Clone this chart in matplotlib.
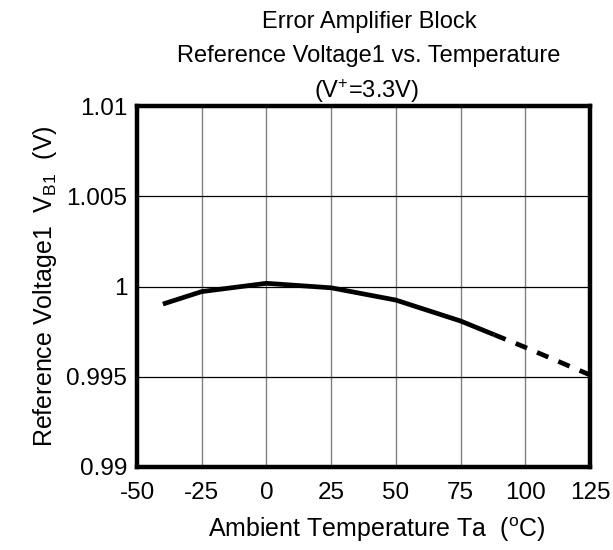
import matplotlib.pyplot as plt
import numpy as np

plt.rcParams['font.family'] = ['Liberation Sans', 'DejaVu Sans']
plt.rcParams['mathtext.default'] = 'regular'

# measured curve
temp_solid = [-40, -25, 0, 25, 50, 75, 88]
vb1_solid = [0.99903, 0.99972, 1.00018, 0.99993, 0.99925, 0.99809, 0.99733]
temp_dash = [88, 100, 125]
vb1_dash = [0.99733, 0.99663, 0.99510]

xticks = [-50, -25, 0, 25, 50, 75, 100, 125]
xlabels = ["-50", "-25", "0", "25", "50", "75", "100", "125"]
yticks = [0.99, 0.995, 1.0, 1.005, 1.01]
ylabels = ["0.99", "0.995", "1", "1.005", "1.01"]

fig = plt.figure(figsize=(6.13, 5.5), dpi=100)
ax = fig.add_axes([0.2235, 0.151, 0.739, 0.656])

for x in xticks[1:-1]:
    ax.axvline(x, color="#808080", lw=1.0, zorder=1)
for y in yticks[1:-1]:
    ax.axhline(y, color="black", lw=0.9, zorder=1)

ax.plot(temp_solid, vb1_solid, color="black", lw=3.4, solid_capstyle="butt", zorder=3)
ax.plot(temp_dash, vb1_dash, color="black", lw=3.4, dashes=(2.6, 2.3),
        dash_capstyle="butt", zorder=3)

ax.set_xlim(-50, 125)
ax.set_ylim(0.99, 1.01)
ax.set_xticks(xticks)
ax.set_xticklabels(xlabels)
ax.set_yticks(yticks)
ax.set_yticklabels(ylabels)
ax.tick_params(length=0, labelsize=17.5)
ax.tick_params(axis="x", pad=11)
ax.tick_params(axis="y", pad=7)
for s in ax.spines.values():
    s.set_linewidth(3.2)

ax.set_xlabel("Ambient Temperature Ta  ($^{o}$C)", fontsize=18)
ax.xaxis.set_label_coords(0.53, -0.194, transform=ax.transAxes)
ax.xaxis.label.set_va("baseline")
ax.set_ylabel("Reference Voltage1  V$_{B1}$  (V)", fontsize=18, labelpad=5)

fig.text(0.602, 0.949, "Error Amplifier Block", ha="center", va="baseline", fontsize=17)
fig.text(0.602, 0.887, "Reference Voltage1 vs. Temperature", ha="center", va="baseline", fontsize=17)
fig.text(0.598, 0.822, "(V$^{+}$=3.3V)", ha="center", va="baseline", fontsize=17)

fig.savefig("out.png", dpi=100)
